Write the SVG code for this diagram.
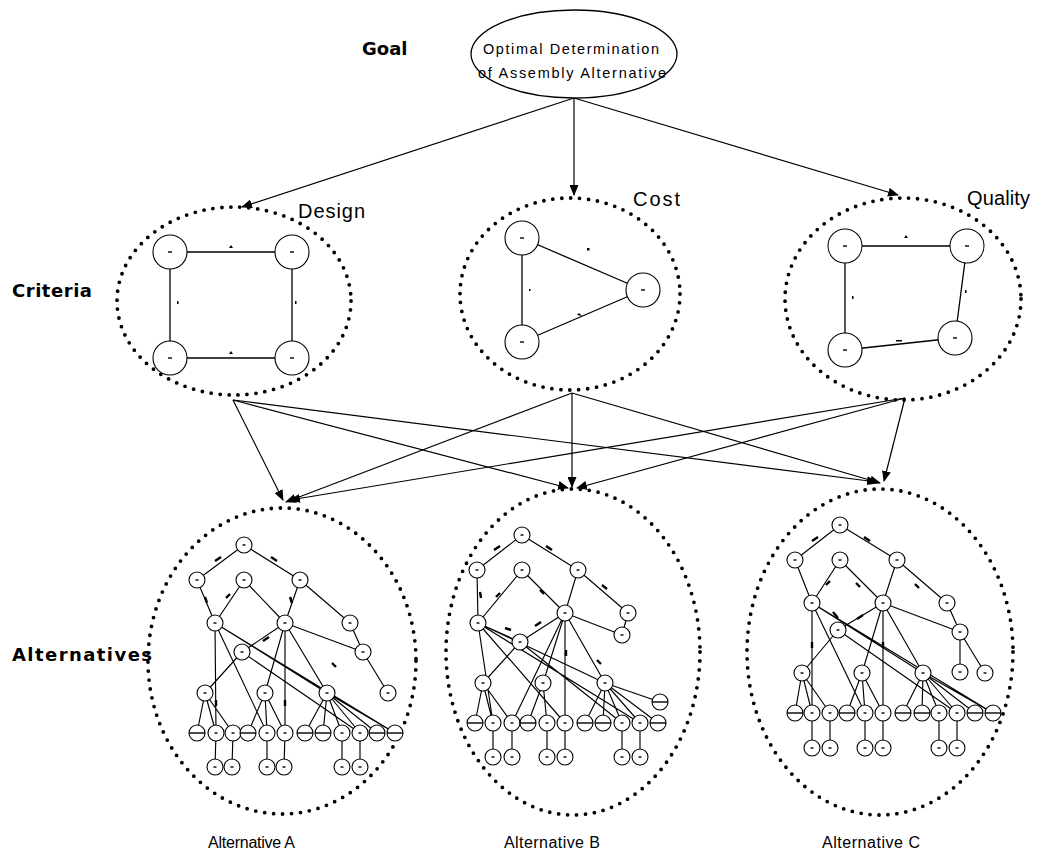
<svg xmlns="http://www.w3.org/2000/svg" xmlns:xlink="http://www.w3.org/1999/xlink" width="1040" height="856" viewBox="0 0 1040 856">
  <style>
    .bg { fill:#fff; }
    .dots { fill:none; stroke:#000; stroke-width:3.8; stroke-linecap:round; stroke-dasharray:0 9; }
    .goal { fill:#fff; stroke:#000; stroke-width:1.3; }
    .arrow { fill:none; stroke:#000; stroke-width:1.2; marker-end:url(#ah); }
    .edge { fill:none; stroke:#000; stroke-width:1.3; }
    .tedge { fill:none; stroke:#000; stroke-width:1.15; }
    .n { fill:#fff; stroke:#000; stroke-width:1.1; }
    .mk { stroke:#000; stroke-width:1.4; }
    .tick { stroke:#000; stroke-width:2.4; }
    .head { font-family:"DejaVu Sans", Verdana, sans-serif; font-weight:bold; font-size:18px; fill:#000; }
    .crit { font-family:"Liberation Sans", Arial, sans-serif; font-size:20px; fill:#000; }
    .alt { font-family:"Liberation Sans", Arial, sans-serif; font-size:16px; fill:#000; }
    .gtxt { font-family:"Liberation Sans", Arial, sans-serif; font-size:14.5px; fill:#000; }
  </style>
  <defs>
    <marker id="ah" markerUnits="userSpaceOnUse" markerWidth="11" markerHeight="9" refX="10" refY="4.5" orient="auto">
      <path d="M0,0 L11,4.5 L0,9 z" fill="#000"/>
    </marker>
    <!-- large criterion element -->
    <g id="cn"><circle r="17" class="n"/><line x1="-2" y1="0" x2="2" y2="0" class="mk"/></g>
    <!-- small tree element, plain and barred -->
    <g id="tn"><circle r="8" class="n"/><line x1="-1.5" y1="0" x2="1.5" y2="0" class="mk"/></g>
    <g id="tb"><circle r="8" class="n"/><line x1="-8" y1="0" x2="8" y2="0" class="mk"/></g>
  </defs>

  <rect class="bg" x="0" y="0" width="1040" height="856"/>

  <!-- level headings -->
  <text class="head" x="362" y="55">Goal</text>
  <text class="head" x="12" y="297" textLength="80">Criteria</text>
  <text class="head" x="12" y="661" textLength="140">Alternatives</text>

  <!-- connectors between levels -->
  <g id="connectors">
    <line class="arrow" x1="574" y1="98" x2="242" y2="207"/>
    <line class="arrow" x1="574" y1="98" x2="574" y2="195"/>
    <line class="arrow" x1="574" y1="98" x2="898" y2="195"/>

    <line class="arrow" x1="233" y1="400" x2="283" y2="500"/>
    <line class="arrow" x1="233" y1="400" x2="568" y2="488"/>
    <line class="arrow" x1="233" y1="400" x2="877" y2="482"/>
    <line class="arrow" x1="572" y1="393" x2="286" y2="502"/>
    <line class="arrow" x1="572" y1="393" x2="572" y2="487"/>
    <line class="arrow" x1="572" y1="393" x2="880" y2="483"/>
    <line class="arrow" x1="905" y1="398" x2="290" y2="500"/>
    <line class="arrow" x1="905" y1="398" x2="577" y2="488"/>
    <line class="arrow" x1="905" y1="398" x2="884" y2="481"/>
  </g>

  <!-- goal -->
  <g id="goal">
    <ellipse class="goal" cx="574" cy="54" rx="103" ry="44"/>
    <text class="gtxt" x="483" y="54" textLength="176">Optimal Determination</text>
    <text class="gtxt" x="478" y="78" textLength="188">of Assembly Alternative</text>
  </g>

  <!-- criterion: design -->
  <g id="design">
    <ellipse class="dots" cx="234" cy="301" rx="117" ry="94"/>
    <path class="edge" d="M170,252 L292,252 M170,252 L170,358 M292,252 L292,358 M170,358 L292,358"/>
    <path d="M229,248 l2,-3 l2,3 z M229,354 l2,-3 l2,3 z" fill="#000"/>
    <rect x="177" y="301" width="1.5" height="3" fill="#000"/>
    <rect x="295" y="301" width="1.5" height="3" fill="#000"/>
    <use href="#cn" x="170" y="252"/>
    <use href="#cn" x="292" y="252"/>
    <use href="#cn" x="170" y="358"/>
    <use href="#cn" x="292" y="358"/>
    <text class="crit" x="298" y="218" textLength="67">Design</text>
  </g>

  <!-- criterion: cost -->
  <g id="cost">
    <ellipse class="dots" cx="570" cy="294" rx="110" ry="96"/>
    <path class="edge" d="M522,238 L643,290 M522,238 L522,342 M522,342 L643,290"/>
    <rect x="587" y="248" width="2.5" height="2.5" fill="#000"/>
    <rect x="529" y="289" width="1.5" height="2" fill="#000"/>
    <path d="M577,315 l2,-2 l3,3 z" fill="#000"/>
    <use href="#cn" x="522" y="238"/>
    <use href="#cn" x="643" y="290"/>
    <use href="#cn" x="522" y="342"/>
    <text class="crit" x="633" y="206" textLength="47">Cost</text>
  </g>

  <!-- criterion: quality -->
  <g id="quality">
    <ellipse class="dots" cx="903" cy="299" rx="118" ry="101"/>
    <path class="edge" d="M845,246 L967,246 M845,246 L845,350 M967,246 L955,338 M845,350 L955,338"/>
    <path d="M904,238 l2,-3 l2,3 z" fill="#000"/>
    <rect x="852" y="296" width="1.5" height="3" fill="#000"/>
    <rect x="965" y="290" width="1.5" height="3" fill="#000"/>
    <rect x="896" y="340" width="6" height="1.5" fill="#000"/>
    <use href="#cn" x="845" y="246"/>
    <use href="#cn" x="967" y="246"/>
    <use href="#cn" x="845" y="350"/>
    <use href="#cn" x="955" y="338"/>
    <text class="crit" x="967" y="205" textLength="63">Quality</text>
  </g>

  <!-- alternative A -->
  <g id="alt-a">
    <ellipse class="dots" cx="282" cy="661" rx="134" ry="153"/>
    <path class="tedge" d="M244,545 L197,580 M244,545 L300,580
      M197,580 L215,623 M244,580 L215,623 M244,580 L285,623 M300,580 L285,623 M300,580 L350,623
      M215,623 L216,733 M215,623 L267,733 M215,623 L327,693 M215,623 L395,733
      M285,623 L242,652 M285,623 L285,733 M285,623 L327,693 M285,623 L363,652 M285,623 L265,693
      M242,652 L205,693 M242,652 L360,733
      M350,623 L363,652 M363,652 L388,693
      M205,693 L197,733 M205,693 L216,733 M205,693 L233,733
      M265,693 L248,733 M265,693 L267,733 M265,693 L285,733
      M327,693 L305,733 M327,693 L323,733 M327,693 L342,733 M327,693 L360,733 M327,693 L377,733 M327,693 L395,733
      M216,733 L215,767 M233,733 L232,767 M267,733 L267,767 M285,733 L284,767 M342,733 L342,767 M360,733 L360,767"/>
    <path class="tick" d="M215,561 L221,557 M271,557 L277,561 M205,597 L207,603 M226,598 L230,594 M290,597 L292,603 M263,641 L269,637 M216,700 L216,706 M285,700 L285,706 M332,663 L336,667"/>
    <use href="#tn" x="244" y="545"/>
    <use href="#tn" x="197" y="580"/><use href="#tn" x="244" y="580"/><use href="#tn" x="300" y="580"/>
    <use href="#tn" x="215" y="623"/><use href="#tn" x="285" y="623"/><use href="#tn" x="350" y="623"/>
    <use href="#tn" x="242" y="652"/><use href="#tn" x="363" y="652"/>
    <use href="#tn" x="205" y="693"/><use href="#tn" x="265" y="693"/><use href="#tn" x="327" y="693"/><use href="#tn" x="388" y="693"/>
    <use href="#tb" x="197" y="733"/><use href="#tn" x="216" y="733"/><use href="#tn" x="233" y="733"/><use href="#tb" x="248" y="733"/>
    <use href="#tn" x="267" y="733"/><use href="#tn" x="285" y="733"/><use href="#tb" x="305" y="733"/><use href="#tb" x="323" y="733"/>
    <use href="#tn" x="342" y="733"/><use href="#tn" x="360" y="733"/><use href="#tb" x="377" y="733"/><use href="#tb" x="395" y="733"/>
    <use href="#tn" x="215" y="767"/><use href="#tn" x="232" y="767"/><use href="#tn" x="267" y="767"/>
    <use href="#tn" x="284" y="767"/><use href="#tn" x="342" y="767"/><use href="#tn" x="360" y="767"/>
    <text class="alt" x="208" y="848" textLength="87">Alternative A</text>
  </g>

  <!-- alternative B -->
  <g id="alt-b">
    <ellipse class="dots" cx="573" cy="652" rx="127" ry="163"/>
    <path class="tedge" d="M522,535 L477,570 M522,535 L578,570
      M477,570 L478,623 M522,570 L478,623 M522,570 L565,613 M578,570 L565,613 M578,570 L628,613
      M628,613 L622,635 M565,613 L622,635 M565,613 L520,642 M565,613 L565,723 M565,613 L512,723 M565,613 L605,683 M565,613 L543,683
      M478,623 L493,723 M478,623 L520,642 M478,623 L565,723 M478,623 L605,683 M478,623 L640,723
      M520,642 L483,683 M520,642 L622,723
      M483,683 L475,723 M483,683 L493,723 M483,683 L512,723
      M543,683 L528,723 M543,683 L547,723
      M605,683 L585,723 M605,683 L603,723 M605,683 L622,723 M605,683 L640,723 M605,683 L658,723 M605,683 L660,702
      M493,723 L493,757 M512,723 L512,757 M547,723 L547,757 M565,723 L565,757 M622,723 L622,757 M640,723 L640,757"/>
    <path class="tick" d="M494,550 L500,546 M546,546 L552,550 M480,592 L481,598 M496,597 L500,593 M540,590 L544,594 M602,585 L607,589 M535,626 L541,622 M566,650 L566,656 M505,628 L511,630 M597,660 L601,664"/>
    <use href="#tn" x="522" y="535"/>
    <use href="#tn" x="477" y="570"/><use href="#tn" x="522" y="570"/><use href="#tn" x="578" y="570"/>
    <use href="#tn" x="478" y="623"/><use href="#tn" x="565" y="613"/><use href="#tn" x="628" y="613"/><use href="#tn" x="622" y="635"/>
    <use href="#tn" x="520" y="642"/>
    <use href="#tn" x="483" y="683"/><use href="#tn" x="543" y="683"/><use href="#tn" x="605" y="683"/><use href="#tb" x="660" y="702"/>
    <use href="#tb" x="475" y="723"/><use href="#tn" x="493" y="723"/><use href="#tn" x="512" y="723"/><use href="#tb" x="528" y="723"/>
    <use href="#tn" x="547" y="723"/><use href="#tn" x="565" y="723"/><use href="#tb" x="585" y="723"/><use href="#tb" x="603" y="723"/>
    <use href="#tn" x="622" y="723"/><use href="#tn" x="640" y="723"/><use href="#tb" x="658" y="723"/>
    <use href="#tn" x="493" y="757"/><use href="#tn" x="512" y="757"/><use href="#tn" x="547" y="757"/>
    <use href="#tn" x="565" y="757"/><use href="#tn" x="622" y="757"/><use href="#tn" x="640" y="757"/>
    <text class="alt" x="504" y="848" textLength="96">Alternative B</text>
  </g>

  <!-- alternative C -->
  <g id="alt-c">
    <ellipse class="dots" cx="880" cy="652" rx="133" ry="163"/>
    <path class="tedge" d="M840,525 L795,560 M840,525 L897,560
      M795,560 L812,603 M840,560 L812,603 M840,560 L883,603 M897,560 L883,603 M897,560 L947,603
      M812,603 L812,713 M812,603 L865,713 M812,603 L923,673 M812,603 L993,713
      M883,603 L838,630 M883,603 L883,713 M883,603 L923,673 M883,603 L960,632 M883,603 L862,673
      M838,630 L802,673 M838,630 L957,713
      M947,603 L960,632 M960,632 L960,672 M960,632 L985,673
      M802,673 L795,713 M802,673 L812,713 M802,673 L830,713
      M862,673 L847,713 M862,673 L865,713 M862,673 L883,713
      M923,673 L903,713 M923,673 L922,713 M923,673 L939,713 M923,673 L957,713 M923,673 L975,713 M923,673 L993,713
      M812,713 L812,748 M830,713 L830,748 M865,713 L865,748 M883,713 L883,748 M939,713 L939,748 M957,713 L957,748"/>
    <path class="tick" d="M812,541 L818,537 M864,537 L870,541 M826,585 L830,581 M856,583 L860,587 M915,584 L919,588 M833,612 L838,618 M857,619 L863,615 M812,642 L812,648 M883,642 L883,648"/>
    <use href="#tn" x="840" y="525"/>
    <use href="#tn" x="795" y="560"/><use href="#tn" x="840" y="560"/><use href="#tn" x="897" y="560"/>
    <use href="#tn" x="812" y="603"/><use href="#tn" x="883" y="603"/><use href="#tn" x="947" y="603"/>
    <use href="#tn" x="838" y="630"/><use href="#tn" x="960" y="632"/>
    <use href="#tn" x="802" y="673"/><use href="#tn" x="862" y="673"/><use href="#tn" x="923" y="673"/><use href="#tn" x="960" y="672"/><use href="#tn" x="985" y="673"/>
    <use href="#tb" x="795" y="713"/><use href="#tn" x="812" y="713"/><use href="#tn" x="830" y="713"/><use href="#tb" x="847" y="713"/>
    <use href="#tn" x="865" y="713"/><use href="#tn" x="883" y="713"/><use href="#tb" x="903" y="713"/><use href="#tb" x="922" y="713"/>
    <use href="#tn" x="939" y="713"/><use href="#tn" x="957" y="713"/><use href="#tb" x="975" y="713"/><use href="#tb" x="993" y="713"/>
    <use href="#tn" x="812" y="748"/><use href="#tn" x="830" y="748"/><use href="#tn" x="865" y="748"/>
    <use href="#tn" x="883" y="748"/><use href="#tn" x="939" y="748"/><use href="#tn" x="957" y="748"/>
    <text class="alt" x="822" y="848" textLength="98">Alternative C</text>
  </g>
</svg>
